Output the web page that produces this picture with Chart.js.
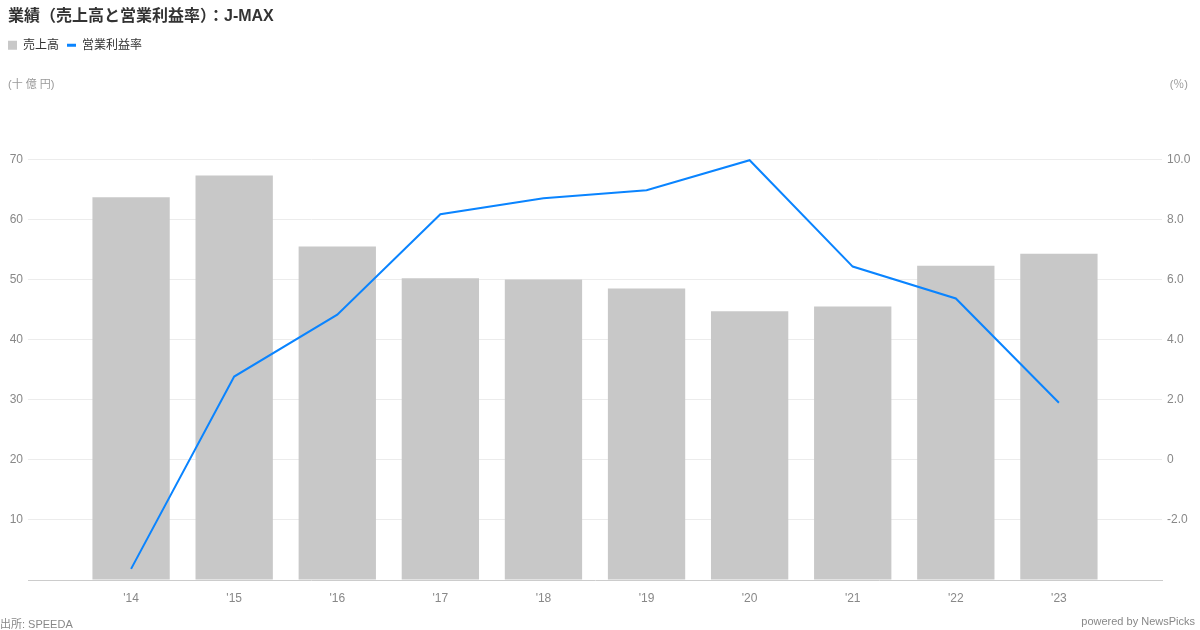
<!DOCTYPE html>
<html><head><meta charset="utf-8">
<script src="https://cdn.jsdelivr.net/npm/chart.js@4/dist/chart.umd.min.js"></script>
<style>
html,body{margin:0;padding:0;background:#fff;}
body{width:1200px;height:630px;position:relative;overflow:hidden;font-family:"Liberation Sans","Noto Sans CJK JP",sans-serif;}
#wrap{position:absolute;left:0;top:0;width:1200px;height:630px;}
.note{position:absolute;font-size:11px;color:#999;white-space:nowrap;}
</style></head><body>
<div id="wrap"><canvas id="c" width="1200" height="630"></canvas></div>
<div class="note" style="left:8px;top:75px;">(十 億 円)</div>
<div class="note" style="right:12px;top:75px;">(％)</div>
<div class="note" style="left:0px;top:615px;color:#888;">出所: SPEEDA</div>
<div class="note" style="right:5px;top:615px;color:#888;">powered by NewsPicks</div>
<script>
const categories = ["'14","'15","'16","'17","'18","'19","'20","'21","'22","'23"];
const sales = [63.7, 67.3, 55.5, 50.2, 50.0, 48.5, 44.7, 45.5, 52.3, 54.3];
const margin = [-3.63, 2.77, 4.83, 8.17, 8.7, 8.97, 9.97, 6.43, 5.37, 1.9];
const leftTicks = [10, 20, 30, 40, 50, 60, 70];
const rightTicks = [-2, 0, 2, 4, 6, 8, 10];

const labels = [''].concat(categories, ['']);
const pad = a => [null].concat(a, [null]);
const FONT = '"Liberation Sans","Noto Sans CJK JP",sans-serif';

const layoutTweaks = {
  id: 'layoutTweaks',
  beforeLayout(chart) {
    const lg = chart.legend;
    if (lg && !lg._patched) {
      const f = lg.fit.bind(lg);
      lg.fit = function () { f(); this.height += 38; };
      lg._patched = true;
    }
  },
  afterLayout(chart) {
    if (chart.titleBlock) { chart.titleBlock.left = 8; }
  }
};

new Chart(document.getElementById('c'), {
  data: {
    labels: labels,
    datasets: [
      { type: 'line', label: '営業利益率', data: pad(margin), yAxisID: 'y1',
        borderColor: '#0a84ff', backgroundColor: '#0a84ff', borderWidth: 2,
        pointRadius: 0, tension: 0, order: 0 },
      { type: 'bar', label: '売上高', data: pad(sales), yAxisID: 'y',
        backgroundColor: '#c8c8c8', borderWidth: 0,
        categoryPercentage: 1, barPercentage: 0.75, order: 1 }
    ]
  },
  options: {
    responsive: false,
    animation: false,
    layout: { padding: { top: 0, left: 0, right: 0, bottom: 0 } },
    plugins: {
      title: { display: true, text: '業績（売上高と営業利益率）：J-MAX', align: 'start',
        color: '#333', font: { family: FONT, size: 16, weight: 'bold' },
        padding: { top: 7, bottom: 5 } },
      legend: { display: true, align: 'start', reverse: true,
        labels: { color: '#333', font: { family: FONT, size: 12 }, boxWidth: 9, boxHeight: 9, padding: 8,
          generateLabels(chart) {
            return chart.data.datasets.map((ds, i) => ({
              text: ds.label, datasetIndex: i,
              fillStyle: ds.type === 'bar' ? '#c8c8c8' : '#0a84ff',
              strokeStyle: ds.type === 'bar' ? '#c8c8c8' : '#0a84ff',
              lineWidth: ds.type === 'bar' ? 0 : 3,
              pointStyle: ds.type === 'bar' ? 'rect' : 'line',
              fontColor: '#333', hidden: false
            }));
          }, usePointStyle: true, pointStyleWidth: 9 } },
      tooltip: { enabled: false }
    },
    scales: {
      x: {
        offset: false,
        grid: { display: false, drawTicks: false },
        border: { display: true, color: '#ccc', width: 1 },
        ticks: { color: '#888', font: { family: FONT, size: 12 }, padding: 11, maxRotation: 0, autoSkip: false },
        afterFit(s) { s.height = 50; }
      },
      y: {
        position: 'left', min: 0, max: 80,
        afterBuildTicks(s) { s.ticks = [0].concat(leftTicks, [80]).map(v => ({ value: v })); },
        grid: { drawTicks: false, color: c => (c.tick && (c.tick.value === 0 || c.tick.value === 80)) ? 'rgba(0,0,0,0)' : '#ececec' },
        border: { display: false },
        ticks: { color: '#888', font: { family: FONT, size: 12 }, padding: 5,
          callback: v => (v === 0 || v === 80) ? '' : String(v) },
        afterFit(s) { s.width = 28; }
      },
      y1: {
        position: 'right', min: -4, max: 12,
        afterBuildTicks(s) { s.ticks = [-4].concat(rightTicks, [12]).map(v => ({ value: v })); },
        grid: { display: false, drawTicks: false },
        border: { display: false },
        ticks: { color: '#888', font: { family: FONT, size: 12 }, padding: 5,
          callback: v => (v === -4 || v === 12) ? '' : (v === 0 ? '0' : v.toFixed(1)) },
        afterFit(s) { s.width = 38; }
      }
    }
  },
  plugins: [layoutTweaks]
});
</script>
</body></html>
